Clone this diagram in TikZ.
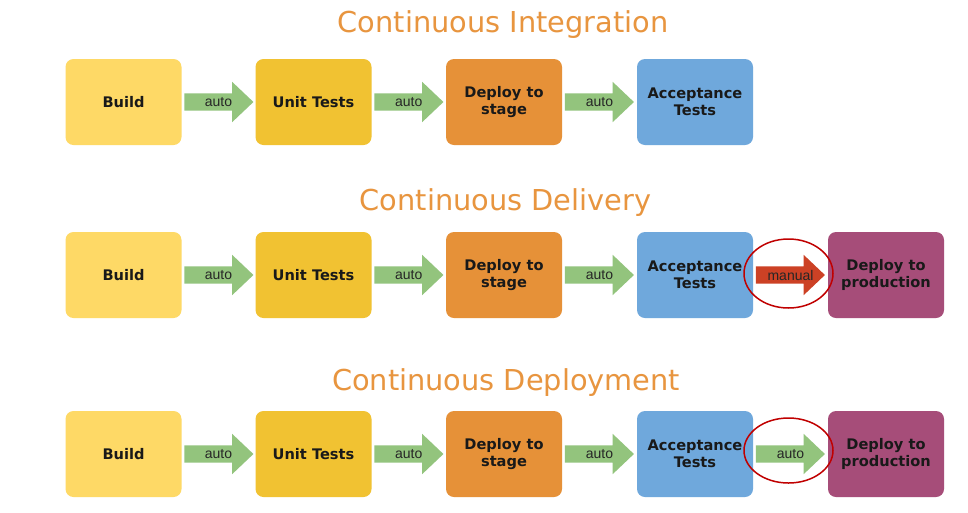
\documentclass[tikz,border=0pt]{standalone}
\usepackage{fontspec}
\setmainfont{DejaVu Sans}
\newfontfamily\arrowfont{Liberation Sans}
\usetikzlibrary{shapes.arrows,calc}
\definecolor{cOrange}{HTML}{E8953F}
\definecolor{cBuild}{HTML}{FED966}
\definecolor{cUnit}{HTML}{F1C232}
\definecolor{cStage}{HTML}{E69138}
\definecolor{cAccept}{HTML}{6FA8DC}
\definecolor{cProd}{HTML}{A64D79}
\definecolor{cGreen}{HTML}{93C47D}
\definecolor{cRed}{HTML}{CC4125}
\definecolor{cRing}{HTML}{C00000}
\tikzset{
  x=1pt, y=-1pt,
  stepbox/.style={rounded corners=8pt, minimum width=116pt, minimum height=86pt,
    inner sep=0pt, align=center, font=\fontsize{14.6}{17}\selectfont\bfseries, text=black!90},
  titletext/.style={anchor=base, font=\fontsize{28.8}{30}\selectfont, text=cOrange, inner sep=0pt},
  flowarrow/.style={single arrow, minimum height=69pt, minimum width=40pt,
    single arrow head extend=11.5pt, single arrow tip angle=87, inner xsep=0pt, inner ysep=4pt,
    text height=9pt, text depth=0pt, anchor=tail, xshift=2.5pt},
  autoarrow/.style={flowarrow, fill=cGreen},
  manualarrow/.style={flowarrow, fill=cRed},
  arrowlabel/.style={inner sep=0pt, font=\arrowfont\fontsize{14}{14}\selectfont, text=black!85},
  ring/.style={draw=cRing, line width=1.5pt}
}
\begin{document}
\begin{tikzpicture}
\useasboundingbox[fill=white] (0,0) rectangle (968,512);

% titles
\node[titletext] (t1) at (503,32) {Continuous Integration};
\node[titletext] (t2) at (505.5,210) {Continuous Delivery};
\node[titletext] (t3) at (506,390) {Continuous Deployment};

% row 1
\node[stepbox, fill=cBuild]  (a1) at (123.5,102) {Build};
\node[stepbox, fill=cUnit]   (a2) at (313.5,102) {Unit Tests};
\node[stepbox, fill=cStage]  (a3) at (504,102) {Deploy to\\stage};
\node[stepbox, fill=cAccept] (a4) at (695,102) {Acceptance\\Tests};
\path (a1.east) -- (a2.west) node[pos=0, autoarrow] (a12) {} node[midway, arrowlabel] {auto};
\path (a2.east) -- (a3.west) node[pos=0, autoarrow] (a23) {} node[midway, arrowlabel] {auto};
\path (a3.east) -- (a4.west) node[pos=0, autoarrow] (a34) {} node[midway, arrowlabel] {auto};

% row 2
\node[stepbox, fill=cBuild]  (b1) at (123.5,275) {Build};
\node[stepbox, fill=cUnit]   (b2) at (313.5,275) {Unit Tests};
\node[stepbox, fill=cStage]  (b3) at (504,275) {Deploy to\\stage};
\node[stepbox, fill=cAccept] (b4) at (695,275) {Acceptance\\Tests};
\node[stepbox, fill=cProd]   (b5) at (886,275) {Deploy to\\production};
\path (b1.east) -- (b2.west) node[pos=0, autoarrow] (b12) {} node[midway, arrowlabel] {auto};
\path (b2.east) -- (b3.west) node[pos=0, autoarrow] (b23) {} node[midway, arrowlabel] {auto};
\path (b3.east) -- (b4.west) node[pos=0, autoarrow] (b34) {} node[midway, arrowlabel] {auto};
\path (b4.east) -- (b5.west) node[pos=0, manualarrow] (b45) {} node[midway, arrowlabel] {manual};
\draw[ring] (788.5,273.5) ellipse [x radius=44.5pt, y radius=34.5pt];

% row 3
\node[stepbox, fill=cBuild]  (c1) at (123.5,454) {Build};
\node[stepbox, fill=cUnit]   (c2) at (313.5,454) {Unit Tests};
\node[stepbox, fill=cStage]  (c3) at (504,454) {Deploy to\\stage};
\node[stepbox, fill=cAccept] (c4) at (695,454) {Acceptance\\Tests};
\node[stepbox, fill=cProd]   (c5) at (886,454) {Deploy to\\production};
\path (c1.east) -- (c2.west) node[pos=0, autoarrow] (c12) {} node[midway, arrowlabel] {auto};
\path (c2.east) -- (c3.west) node[pos=0, autoarrow] (c23) {} node[midway, arrowlabel] {auto};
\path (c3.east) -- (c4.west) node[pos=0, autoarrow] (c34) {} node[midway, arrowlabel] {auto};
\path (c4.east) -- (c5.west) node[pos=0, autoarrow] (c45) {} node[midway, arrowlabel] {auto};
\draw[ring] (788.5,450.5) ellipse [x radius=44.5pt, y radius=32.5pt];
\end{tikzpicture}
\end{document}
